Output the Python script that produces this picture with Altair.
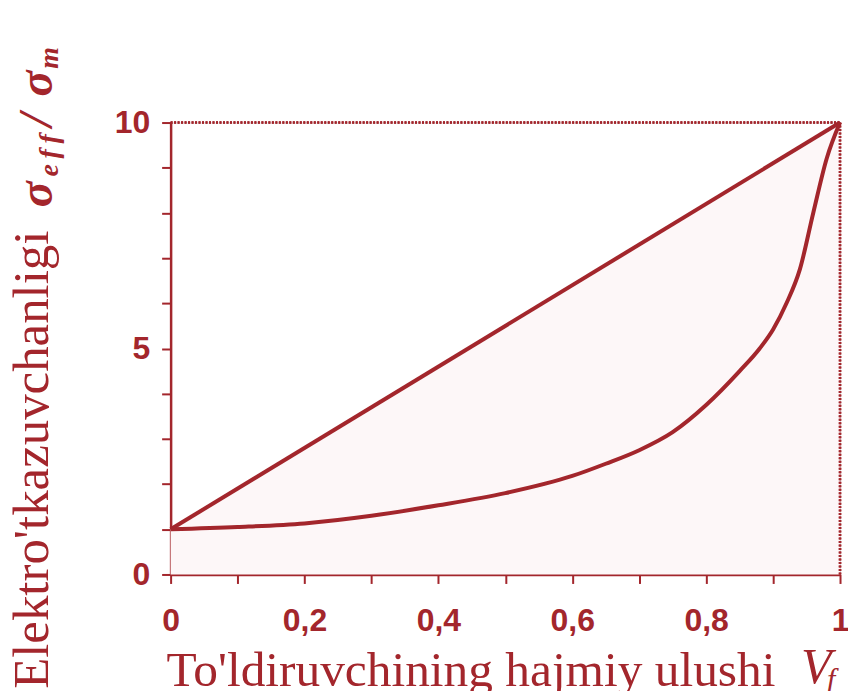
import altair as alt
import pandas as pd

# --- data ---
vf_lower = [0, 0.1, 0.2, 0.3, 0.4, 0.5, 0.6, 0.65, 0.7, 0.75, 0.8, 0.85, 0.88, 0.9, 0.92, 0.94, 0.96, 0.98, 1.0]
sigma_lower = [1.0, 1.05, 1.13, 1.3, 1.53, 1.8, 2.18, 2.45, 2.75, 3.15, 3.75, 4.5, 5.0, 5.42, 6.0, 6.75, 8.0, 9.2, 10.0]
vf_upper = [0, 1]
sigma_upper = [1, 10]
x_tick_values = [0, 0.1, 0.2, 0.3, 0.4, 0.5, 0.6, 0.7, 0.8, 0.9, 1.0]
y_tick_values = [0, 1, 2, 3, 4, 5, 6, 7, 8, 9, 10]

COL = "#a3262c"
FILL = "#fdf7f8"

lower_df = pd.DataFrame({"vf": vf_lower, "s": sigma_lower})
upper_df = pd.DataFrame({"vf": vf_upper, "s": sigma_upper})

xscale = alt.Scale(domain=[0, 1], nice=False, zero=False)
yscale = alt.Scale(domain=[0, 10], nice=False, zero=False)

xaxis = alt.Axis(
    values=x_tick_values, title=None, grid=False,
    labelExpr="(round(datum.value*10) % 2 == 0) ? replace(format(datum.value, '.1~f'), '.', ',') : ''",
    labelFont="Liberation Sans", labelFontWeight="bold", labelFontSize=32, labelColor=COL,
    labelPadding=22, tickSize=9, tickWidth=2, tickColor=COL, domainColor=COL, domainWidth=2.5,
    labelFlush=False, labelOverlap=False,
)
yaxis = alt.Axis(
    values=y_tick_values, title=None, grid=False,
    labelExpr="datum.value % 5 == 0 ? datum.label : ''",
    labelFont="Liberation Sans", labelFontWeight="bold", labelFontSize=32, labelColor=COL,
    labelPadding=12, tickSize=9, tickWidth=2, tickColor=COL, domainColor=COL, domainWidth=2.5,
    labelFlush=False, labelOverlap=False,
)

area = alt.Chart(upper_df).mark_area(color=FILL, opacity=1).encode(
    x=alt.X("vf:Q", scale=xscale, axis=xaxis),
    y=alt.Y("s:Q", scale=yscale, axis=yaxis),
    y2=alt.datum(0),
)

border_top = alt.Chart(upper_df).mark_rule(color=COL, strokeWidth=2.5, strokeDash=[2, 1.5]).encode(
    x=alt.datum(0), x2=alt.datum(1), y=alt.datum(10)
)
border_right = alt.Chart(upper_df).mark_rule(color=COL, strokeWidth=2.5, strokeDash=[2, 1.5]).encode(
    x=alt.datum(1), y=alt.datum(0), y2=alt.datum(10)
)

upper_line = alt.Chart(upper_df).mark_line(color=COL, strokeWidth=4).encode(
    x=alt.X("vf:Q", scale=xscale), y=alt.Y("s:Q", scale=yscale)
)
lower_line = alt.Chart(lower_df).mark_line(color=COL, strokeWidth=4, interpolate="monotone").encode(
    x=alt.X("vf:Q", scale=xscale), y=alt.Y("s:Q", scale=yscale)
)

# --- titles as text pieces (pixel positions relative to plot origin) ---
def txt(text, x, y, size, style="normal", weight="normal", angle=0, align="left", baseline="alphabetic"):
    return alt.Chart(pd.DataFrame({"t": [text]})).mark_text(
        font="Liberation Serif", fontSize=size, fontStyle=style, fontWeight=weight,
        color=COL, angle=angle, align=align, baseline=baseline,
    ).encode(text="t:N", x=alt.value(x), y=alt.value(y))

OX, OY = 171, 122
xtitle = [
    txt("To'ldiruvchining hajmiy ulushi", 167 - OX, 687 - OY, 49.5),
    txt("V", 803 - OX, 684 - OY, 50, style="italic"),
    txt("f", 829 - OX, 690 - OY, 30, style="italic"),
]
ytitle = [
    txt("Elektro'tkazuvchanligi", 48 - OX, 460 - OY, 51, angle=270, align="center"),
    txt("σ", 52 - OX, 207 - OY, 48, style="italic", weight="bold", angle=270),
    txt("e\u2009f\u2009f", 58 - OX, 176 - OY, 28, style="italic", weight="bold", angle=270),
    txt("/", 52 - OX, 126 - OY, 48, style="italic", weight="bold", angle=270),
    txt("σ", 52 - OX, 96 - OY, 48, style="italic", weight="bold", angle=270),
    txt("m", 58 - OX, 68 - OY, 28, style="italic", weight="bold", angle=270),
]

chart = alt.layer(area, border_top, border_right, upper_line, lower_line, *xtitle, *ytitle).properties(
    width=671, height=453,
    padding={"left": 163, "top": 114, "right": 8, "bottom": 116},
    autosize="none",
).configure_view(
    stroke=None
).configure(background="white")

chart.save("out.html", embed_options={"renderer": "svg", "actions": False})
